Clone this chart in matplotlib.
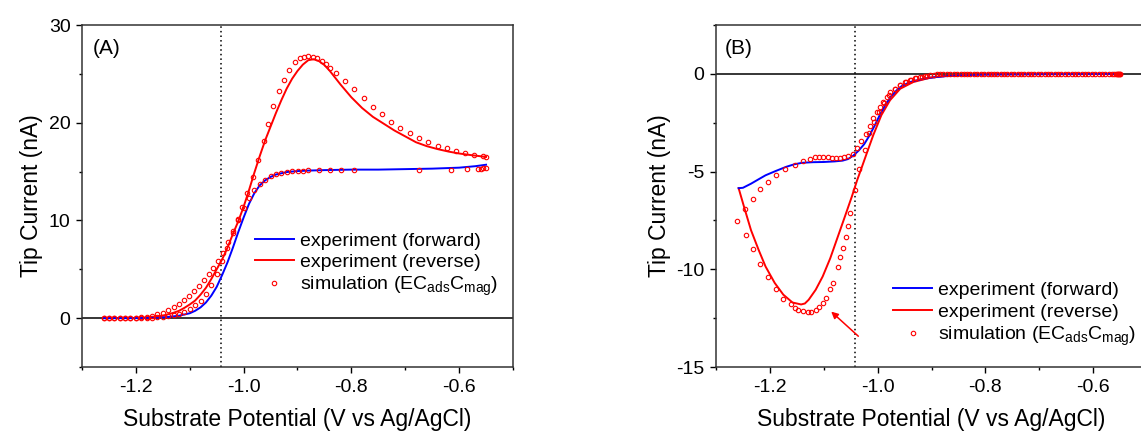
import matplotlib
matplotlib.use("Agg")
import matplotlib.pyplot as plt
from matplotlib.ticker import MultipleLocator

plt.rcParams['font.family'] = ['Liberation Sans', 'DejaVu Sans']
plt.rcParams['axes.unicode_minus'] = False

# ---------- panel A data ----------
a_fwd_x = [-1.26, -1.2, -1.16, -1.14, -1.12, -1.1, -1.09, -1.08, -1.07, -1.06, -1.05, -1.04,
           -1.03, -1.02, -1.01, -1.0, -0.99, -0.98, -0.97, -0.96, -0.95, -0.94, -0.92, -0.9,
           -0.88, -0.85, -0.8, -0.75, -0.7, -0.65, -0.6, -0.57, -0.55]
a_fwd_y = [0, 0, 0.05, 0.12, 0.25, 0.5, 0.75, 1.1, 1.6, 2.3, 3.2, 4.4,
           5.7, 7.2, 8.8, 10.3, 11.7, 12.8, 13.6, 14.1, 14.45, 14.7, 14.95, 15.05,
           15.1, 15.15, 15.2, 15.2, 15.25, 15.3, 15.4, 15.55, 15.7]

a_rev_x = [-1.26, -1.2, -1.17, -1.15, -1.13, -1.12, -1.11, -1.1, -1.09, -1.08, -1.07, -1.06,
           -1.05, -1.04, -1.03, -1.02, -1.01, -1.0, -0.99, -0.98, -0.97, -0.96, -0.95, -0.94,
           -0.93, -0.92, -0.91, -0.9, -0.89, -0.88, -0.87, -0.86, -0.85, -0.84, -0.82, -0.8,
           -0.78, -0.76, -0.74, -0.72, -0.7, -0.68, -0.66, -0.64, -0.62, -0.6, -0.58, -0.55]
a_rev_y = [0, 0.02, 0.1, 0.25, 0.55, 0.75, 1.05, 1.4, 1.8, 2.4, 3.1, 4.0,
           5.0, 6.0, 7.2, 8.6, 9.9, 11.4, 13.1, 14.9, 16.6, 18.2, 19.6, 21.0,
           22.3, 23.5, 24.5, 25.3, 25.95, 26.4, 26.5, 26.3, 25.9, 25.3, 23.9, 22.6,
           21.5, 20.6, 19.9, 19.2, 18.6, 18.0, 17.6, 17.3, 17.05, 16.85, 16.7, 16.5]

a_sim_fwd_x = [-1.26, -1.25, -1.24, -1.23, -1.22, -1.21, -1.2, -1.19, -1.18, -1.17, -1.16, -1.15,
               -1.14, -1.13, -1.12, -1.11, -1.1, -1.09, -1.08, -1.07, -1.06, -1.05, -1.04, -1.03,
               -1.02, -1.01, -1.0, -0.99, -0.98, -0.97, -0.96, -0.95, -0.94, -0.93, -0.92, -0.91,
               -0.9, -0.89, -0.88, -0.86, -0.84, -0.82, -0.795, -0.675, -0.615, -0.585, -0.565,
               -0.56, -0.555, -0.55]
a_sim_fwd_y = [0, 0, 0, 0, 0, 0, 0, 0, 0.02, 0.05, 0.08, 0.12,
               0.2, 0.3, 0.45, 0.65, 0.9, 1.3, 1.8, 2.5, 3.4, 4.5, 5.8, 7.2,
               8.7, 10.1, 11.3, 12.3, 13.1, 13.7, 14.15, 14.5, 14.75, 14.9, 15.0, 15.05,
               15.1, 15.1, 15.12, 15.15, 15.15, 15.15, 15.15, 15.2, 15.2, 15.25, 15.3,
               15.3, 15.35, 15.4]

a_sim_rev_x = [-0.55, -0.556, -0.573, -0.59, -0.606, -0.623, -0.64, -0.657, -0.675, -0.691,
               -0.709, -0.726, -0.744, -0.76, -0.777, -0.795, -0.812, -0.829, -0.839, -0.847,
               -0.855, -0.863, -0.871, -0.88, -0.888, -0.896, -0.905, -0.915, -0.925, -0.935,
               -0.945, -0.955, -0.963, -0.973, -0.983, -0.993, -1.003, -1.011, -1.02, -1.029,
               -1.038, -1.047, -1.056, -1.065, -1.074, -1.083, -1.092, -1.101, -1.11, -1.12,
               -1.13, -1.14, -1.15, -1.16, -1.17, -1.18, -1.19, -1.2, -1.21, -1.22, -1.23,
               -1.24, -1.25, -1.26]
a_sim_rev_y = [16.5, 16.6, 16.7, 16.9, 17.1, 17.4, 17.65, 18.0, 18.4, 18.9,
               19.5, 20.1, 20.9, 21.6, 22.5, 23.4, 24.3, 25.1, 25.6, 26.05,
               26.3, 26.6, 26.7, 26.8, 26.7, 26.6, 26.2, 25.4, 24.4, 23.2,
               21.7, 19.9, 18.1, 16.2, 14.4, 12.8, 11.4, 10.0, 8.9, 7.8,
               6.7, 5.8, 5.1, 4.5, 3.9, 3.3, 2.8, 2.3, 1.85, 1.45,
               1.1, 0.8, 0.55, 0.38, 0.25, 0.15, 0.08, 0.04, 0.02, 0.01, 0,
               0, 0, 0]

# ---------- panel B data ----------
b_fwd_x = [-1.258, -1.25, -1.235, -1.22, -1.208, -1.19, -1.17, -1.155, -1.14, -1.12, -1.1,
           -1.08, -1.065, -1.055, -1.045, -1.035, -1.025, -1.015, -1.005, -0.995, -0.985,
           -0.975, -0.965, -0.955, -0.94, -0.925, -0.91, -0.89, -0.87, -0.85, -0.8, -0.7,
           -0.6, -0.55]
b_fwd_y = [-5.85, -5.83, -5.62, -5.38, -5.19, -4.98, -4.76, -4.63, -4.55, -4.52, -4.51,
           -4.48, -4.44, -4.36, -4.18, -3.92, -3.6, -3.15, -2.62, -2.05, -1.55,
           -1.15, -0.85, -0.62, -0.42, -0.31, -0.23, -0.16, -0.11, -0.08, -0.04, -0.02,
           -0.01, 0]

b_rev_x = [-1.258, -1.248, -1.235, -1.221, -1.208, -1.191, -1.175, -1.158, -1.142, -1.135,
           -1.128, -1.115, -1.102, -1.088, -1.075, -1.062, -1.048, -1.038, -1.029, -1.02,
           -1.008, -0.993, -0.977, -0.958, -0.934, -0.903, -0.872, -0.84, -0.8, -0.7, -0.6,
           -0.55]
b_rev_y = [-5.85, -6.8, -8.0, -9.0, -9.86, -10.7, -11.3, -11.7, -11.8, -11.75,
           -11.56, -11.05, -10.37, -9.44, -8.42, -7.4, -6.29, -5.44, -4.75, -4.05,
           -3.13, -2.11, -1.35, -0.76, -0.42, -0.2, -0.1, -0.05, -0.02, -0.01, 0,
           0]

b_sim_fwd_x = [-1.261, -1.246, -1.231, -1.218, -1.203, -1.189, -1.172, -1.154, -1.139, -1.125,
               -1.116, -1.108, -1.101, -1.093, -1.085, -1.077, -1.07, -1.062, -1.055, -1.046,
               -1.039, -1.03, -1.022, -1.015, -1.008, -1.002, -0.996, -0.99, -0.983, -0.977,
               -0.968, -0.958, -0.949, -0.94, -0.93, -0.921, -0.912, -0.903, -0.89, -0.878,
               -0.865, -0.852, -0.84, -0.828, -0.815, -0.802, -0.79, -0.778, -0.765, -0.752,
               -0.74, -0.728, -0.715, -0.702, -0.69, -0.678, -0.665, -0.652, -0.64, -0.628,
               -0.615, -0.602, -0.59, -0.578, -0.565, -0.558, -0.554, -0.552, -0.55]
b_sim_fwd_y = [-7.52, -6.89, -6.38, -5.9, -5.53, -5.19, -4.85, -4.65, -4.48, -4.34,
               -4.27, -4.26, -4.26, -4.27, -4.29, -4.29, -4.29, -4.26, -4.22, -4.09,
               -3.8, -3.46, -3.07, -2.67, -2.28, -1.95, -1.7, -1.45, -1.2, -0.95,
               -0.75, -0.55, -0.4, -0.3, -0.2, -0.14, -0.09, -0.06, -0.03, -0.02,
               -0.01, -0.01, 0, 0, 0, 0, 0, 0, 0, 0,
               0, 0, 0, 0, 0, 0, 0, 0, 0, 0,
               0, 0, 0, 0, 0, 0, 0, 0, 0]

b_sim_rev_x = [-0.551, -0.553, -0.556, -0.561, -0.571, -0.584, -0.596, -0.609, -0.621, -0.634,
               -0.646, -0.659, -0.671, -0.684, -0.696, -0.709, -0.721, -0.734, -0.746, -0.759,
               -0.771, -0.784, -0.796, -0.809, -0.821, -0.834, -0.846, -0.859, -0.871, -0.884,
               -0.896, -0.908, -0.918, -0.928, -0.938, -0.948, -0.958, -0.968, -0.978, -0.988,
               -0.998, -1.007, -1.016, -1.024, -1.034, -1.042, -1.051, -1.055, -1.059, -1.064,
               -1.069, -1.074, -1.082, -1.088, -1.095, -1.102, -1.109, -1.115, -1.123, -1.13,
               -1.138, -1.147, -1.153, -1.161, -1.175, -1.189, -1.203, -1.218, -1.231, -1.245]
b_sim_rev_y = [0, 0, 0, 0, 0, 0, 0, 0, 0, 0,
               0, 0, 0, 0, 0, 0, 0, 0, 0, 0,
               0, 0, 0, 0, 0, 0, -0.01, -0.01, -0.02, -0.03,
               -0.05, -0.09, -0.14, -0.21, -0.3, -0.42, -0.58, -0.8, -1.1, -1.5,
               -1.95, -2.45, -3.05, -3.88, -4.85, -5.95, -7.14, -7.77, -8.33, -8.89,
               -9.39, -9.86, -10.68, -11.02, -11.48, -11.73, -11.94, -12.07, -12.18, -12.21,
               -12.16, -12.07, -11.99, -11.79, -11.51, -11.02, -10.41, -9.74, -8.98, -8.25]

e0 = -1.042
labels = ['experiment (forward)', 'experiment (reverse)',
          'simulation (EC$_\\mathregular{ads}$C$_\\mathregular{mag}$)']
blue = '#0000ff'
red = '#ff0000'

fig = plt.figure(figsize=(11.41, 4.32), dpi=100)
axA = fig.add_axes([82 / 1141, 65 / 432, 431 / 1141, 342 / 432])
axB = fig.add_axes([716 / 1141, 65 / 432, 431 / 1141, 342 / 432])


def draw(ax, fx, fy, rx, ry, sfx, sfy, srx, sry):
    ax.axhline(0, color='black', lw=1.1, zorder=1)
    ax.axvline(e0, color='black', lw=1.1, ls=(0, (1, 2)), zorder=1)
    l1, = ax.plot(fx, fy, color=blue, lw=1.4, zorder=3)
    l2, = ax.plot(rx, ry, color=red, lw=1.4, zorder=2)
    ax.plot(sfx, sfy, ls='none', marker='o', ms=3.2, mfc='none', mec=red, mew=0.8, zorder=4)
    s, = ax.plot(srx, sry, ls='none', marker='o', ms=3.2, mfc='none', mec=red, mew=0.8, zorder=4)
    ax.set_xlim(-1.3, -0.5)
    ax.xaxis.set_major_locator(MultipleLocator(0.2))
    ax.xaxis.set_minor_locator(MultipleLocator(0.1))
    ax.xaxis.set_major_formatter(plt.FormatStrFormatter('%.1f'))
    ax.tick_params(which='major', direction='out', length=4.3, width=1, labelsize=14, pad=4)
    ax.tick_params(which='minor', direction='out', length=2.2, width=1)
    for sp in ax.spines.values():
        sp.set_color('#333333')
        sp.set_linewidth(1.1)
    ax.set_xlabel('Substrate Potential (V vs Ag/AgCl)', fontsize=16.5, labelpad=9)
    ax.set_ylabel('Tip Current (nA)', fontsize=16.5, labelpad=4)
    return [l1, l2, s]


hA = draw(axA, a_fwd_x, a_fwd_y, a_rev_x, a_rev_y, a_sim_fwd_x, a_sim_fwd_y, a_sim_rev_x, a_sim_rev_y)
axA.set_ylim(-5, 30)
axA.yaxis.set_major_locator(MultipleLocator(10))
axA.yaxis.set_minor_locator(MultipleLocator(5))
axA.text(0.026, 0.93, '(A)', transform=axA.transAxes, fontsize=15, va='center', ha='left')
axA.legend(hA, labels, loc='upper left', bbox_to_anchor=(0.401, 0.395), frameon=False,
           fontsize=14, handlelength=2.0, handletextpad=0.3, labelspacing=0.2,
           borderpad=0, borderaxespad=0, numpoints=1)

hB = draw(axB, b_fwd_x, b_fwd_y, b_rev_x, b_rev_y, b_sim_fwd_x, b_sim_fwd_y, b_sim_rev_x, b_sim_rev_y)
axB.set_ylim(-15, 2.5)
axB.yaxis.set_major_locator(MultipleLocator(5))
axB.yaxis.set_minor_locator(MultipleLocator(2.5))
axB.text(0.021, 0.93, '(B)', transform=axB.transAxes, fontsize=15, va='center', ha='left')
axB.legend(hB, labels, loc='upper left', bbox_to_anchor=(0.411, 0.25), frameon=False,
           fontsize=14, handlelength=2.0, handletextpad=0.3, labelspacing=0.2,
           borderpad=0, borderaxespad=0, numpoints=1)
axB.annotate('', xy=(-1.09, -12.07), xytext=(-1.032, -13.52),
             arrowprops=dict(arrowstyle='-|>', color=red, lw=1.1, mutation_scale=10))

fig.savefig('out.png', dpi=100)
